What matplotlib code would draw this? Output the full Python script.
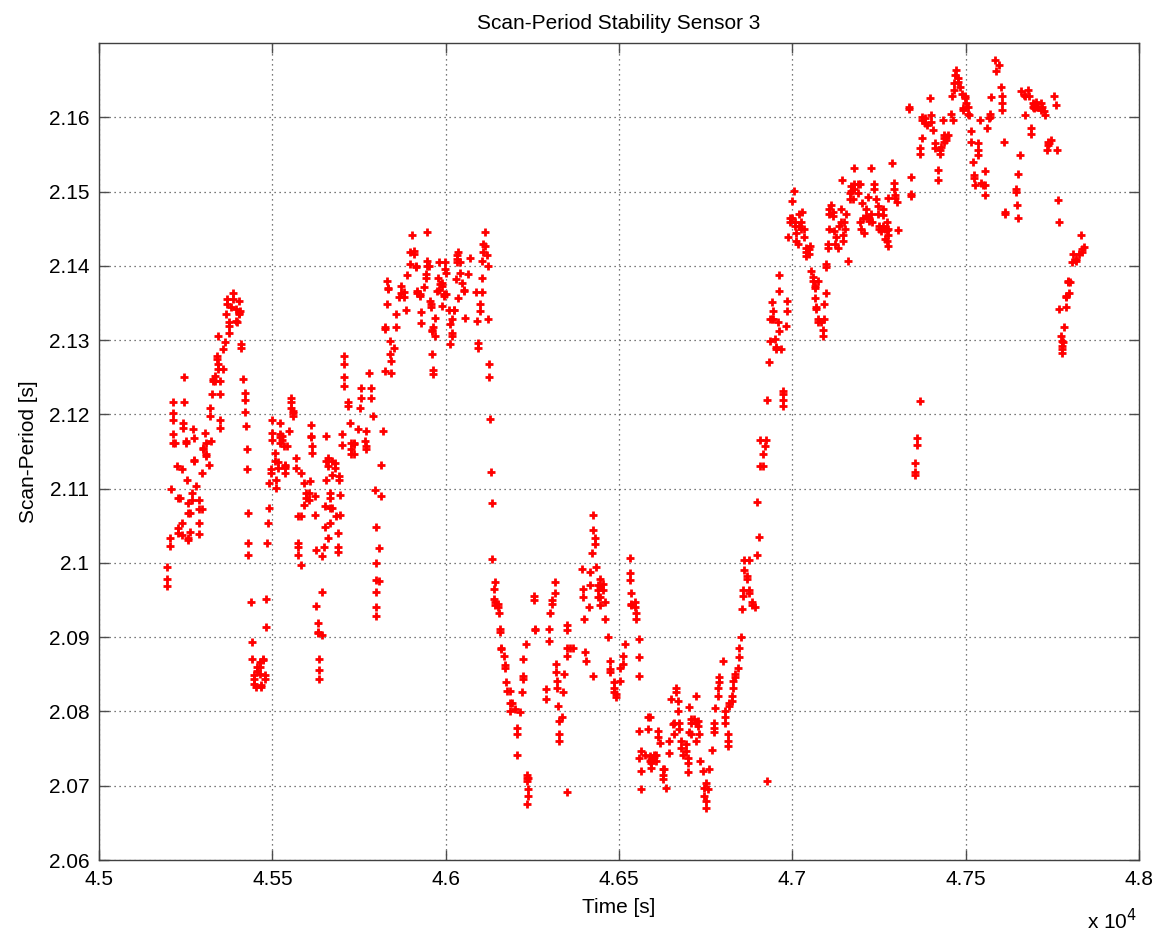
import matplotlib
matplotlib.use('Agg')
import matplotlib.pyplot as plt
from matplotlib.ticker import FuncFormatter
import numpy as np

plt.rcParams['font.family'] = ['Liberation Sans', 'DejaVu Sans']

# scan period samples, one row per time stamp: (time [s], period [s], ...)
seg_a = [
    (45195, 2.0994, 2.0978, 2.0969), (45205, 2.1023, 2.1034), (45209, 2.1100),
    (45214, 2.1202, 2.1193, 2.1217, 2.1173, 2.1162), (45219, 2.1162), (45224, 2.1130),
    (45228, 2.1087, 2.1047, 2.1040), (45233, 2.1087), (45238, 2.1126, 2.1054, 2.1038),
    (45243, 2.1189, 2.1182), (45246, 2.1250, 2.1216), (45250, 2.1164, 2.1162),
    (45255, 2.1112), (45257, 2.1081, 2.1067, 2.1033, 2.1031), (45262, 2.1067, 2.1042),
    (45267, 2.1094, 2.1085), (45270, 2.1180), (45274, 2.1168, 2.1139, 2.1137),
    (45281, 2.1103), (45289, 2.1085, 2.1072, 2.1054, 2.1039), (45296, 2.1072),
    (45297, 2.1121), (45300, 2.1155, 2.1153), (45305, 2.1175), (45310, 2.1162, 2.1146, 2.1144),
    (45317, 2.1132), (45320, 2.1209, 2.1198), (45324, 2.1164), (45326, 2.1227),
    (45329, 2.1247, 2.1245), (45334, 2.1252, 2.1245), (45339, 2.1279, 2.1274),
    (45342, 2.1305), (45344, 2.1268, 2.1261), (45350, 2.1245, 2.1227, 2.1193, 2.1182),
    (45358, 2.1261, 2.1288), (45363, 2.1297), (45366, 2.1335), (45368, 2.1355, 2.1349),
    (45376, 2.1324, 2.1319, 2.1310), (45380, 2.1344), (45387, 2.1364, 2.1355),
    (45395, 2.1342, 2.1326), (45399, 2.1324), (45404, 2.1353, 2.1337, 2.1335),
    (45408, 2.1339), (45411, 2.1295, 2.1290), (45416, 2.1248), (45421, 2.1229, 2.1220, 2.1203),
    (45425, 2.1184), (45428, 2.1154, 2.1127), (45430, 2.1067), (45431, 2.1027, 2.1010),
    (45438, 2.0948), (45440, 2.0894, 2.0871), (45446, 2.0849, 2.0844, 2.0837),
    (45452, 2.0833), (45456, 2.0860, 2.0855), (45463, 2.0867, 2.0860, 2.0851),
    (45468, 2.0835, 2.0833), (45473, 2.0871, 2.0869), (45478, 2.0849, 2.0844),
    (45481, 2.0914), (45483, 2.0952), (45485, 2.1027), (45488, 2.1054),
    (45490, 2.1074, 2.1108), (45497, 2.1126, 2.1121),
]

seg_b = [
    (45500, 2.1193, 2.1166, 2.1175), (45507, 2.1148, 2.1137), (45510, 2.1101, 2.1112),
    (45516, 2.1128, 2.1136), (45521, 2.1173, 2.1169, 2.1162, 2.1189), (45529, 2.1171, 2.1166),
    (45534, 2.1157), (45536, 2.1132, 2.1128, 2.1121, 2.1130), (45543, 2.1158), (45548, 2.1177),
    (45555, 2.1222, 2.1216, 2.1209), (45559, 2.1202, 2.1198, 2.1205), (45569, 2.1141, 2.1128),
    (45574, 2.1063, 2.1027, 2.1022, 2.1011), (45583, 2.1063, 2.0997, 2.1121),
    (45590, 2.1078, 2.1108), (45598, 2.1094, 2.1087), (45606, 2.1094, 2.1085), (45610, 2.1110),
    (45612, 2.1186, 2.1171, 2.1169), (45615, 2.1157, 2.1148), (45622, 2.1065, 2.1090),
    (45625, 2.1018), (45627, 2.0942), (45631, 2.0919, 2.0907, 2.0905),
    (45636, 2.0871, 2.0856, 2.0844), (45644, 2.0961, 2.0903, 2.1009), (45649, 2.1022),
    (45651, 2.1076, 2.1049), (45654, 2.1171, 2.1137, 2.1112), (45660, 2.1141, 2.1130, 2.1033),
    (45665, 2.1087, 2.1074, 2.1054, 2.1094), (45673, 2.1119, 2.1137, 2.1074),
    (45680, 2.1135, 2.1128), (45684, 2.1063), (45689, 2.1040, 2.1022, 2.1015),
    (45692, 2.1117, 2.1112), (45696, 2.1065, 2.1092), (45702, 2.1173, 2.1159),
    (45708, 2.1279, 2.1268, 2.1250, 2.1238), (45718, 2.1216, 2.1211), (45723, 2.1189),
    (45728, 2.1162, 2.1153, 2.1146), (45735, 2.1162, 2.1160, 2.1146), (45747, 2.1180),
    (45752, 2.1209), (45756, 2.1236, 2.1222), (45766, 2.1164), (45771, 2.1177, 2.1153, 2.1157),
    (45780, 2.1256), (45785, 2.1236, 2.1222), (45790, 2.1198), (45795, 2.1098),
    (45800, 2.1049, 2.1000, 2.0977, 2.0961, 2.0941, 2.0929), (45807, 2.0975, 2.1020),
    (45814, 2.1132, 2.1090), (45820, 2.1177), (45824, 2.1259, 2.1317, 2.1315),
    (45830, 2.1349, 2.1380), (45834, 2.1369, 2.1370), (45838, 2.1299, 2.1281),
    (45843, 2.1272, 2.1256), (45852, 2.1290), (45857, 2.1317, 2.1335), (45865, 2.1358),
    (45871, 2.1373, 2.1364), (45880, 2.1365, 2.1358), (45886, 2.1340), (45889, 2.1387),
    (45897, 2.1418, 2.1402),
]

seg_c = [
    (45902, 2.1441), (45908, 2.1420, 2.1416), (45913, 2.1400, 2.1398), (45918, 2.1366, 2.1364),
    (45927, 2.1362, 2.1359), (45930, 2.1323, 2.1338), (45937, 2.1371), (45942, 2.1389, 2.1384),
    (45946, 2.1446, 2.1407, 2.1400), (45951, 2.1400), (45956, 2.1353), (45959, 2.1348, 2.1344),
    (45961, 2.1314, 2.1312, 2.1281), (45964, 2.1260, 2.1254, 2.1317), (45970, 2.1330, 2.1305),
    (45975, 2.1366), (45978, 2.1384), (45980, 2.1405, 2.1368), (45985, 2.1375), (45988, 2.1346),
    (45989, 2.1377, 2.1373), (45994, 2.1362, 2.1359), (45999, 2.1405, 2.1396),
    (46001, 2.1391, 2.1362), (46009, 2.1341), (46013, 2.1321, 2.1295),
    (46018, 2.1328, 2.1310, 2.1305), (46023, 2.1341, 2.1341), (46030, 2.1382),
    (46033, 2.1414, 2.1409, 2.1405), (46037, 2.1418, 2.1356), (46042, 2.1405, 2.1391),
    (46047, 2.1377), (46054, 2.1368, 2.1366), (46056, 2.1330), (46064, 2.1389), (46071, 2.1411),
    (46087, 2.1365), (46090, 2.1326), (46092, 2.1296, 2.1290), (46098, 2.1339, 2.1348),
    (46104, 2.1384, 2.1365, 2.1407), (46109, 2.1429, 2.1418), (46114, 2.1445, 2.1427),
    (46119, 2.1414), (46122, 2.1400, 2.1329), (46124, 2.1268), (46126, 2.1250), (46128, 2.1194),
    (46130, 2.1123), (46133, 2.1080, 2.1005), (46138, 2.0965, 2.0952),
    (46143, 2.0947, 2.0943, 2.0974), (46150, 2.0945, 2.0941), (46154, 2.0932),
    (46157, 2.0911, 2.0907), (46160, 2.0886, 2.0884), (46167, 2.0875), (46171, 2.0862, 2.0859),
    (46173, 2.0839), (46176, 2.0828), (46186, 2.0828, 2.0812, 2.0801), (46191, 2.0812),
    (46200, 2.0803), (46205, 2.0778, 2.0770), (46207, 2.0742), (46215, 2.0799), (46219, 2.0826),
    (46224, 2.0871, 2.0848, 2.0844), (46231, 2.0891), (46234, 2.0715, 2.0710, 2.0706, 2.0675),
    (46238, 2.0695, 2.0686, 2.0710), (46256, 2.0955, 2.0950), (46258, 2.0911, 2.0909),
    (46289, 2.0830, 2.0817), (46297, 2.0911, 2.0895),
]

seg_d = [
    (46301, 2.0932), (46308, 2.0950, 2.0945), (46315, 2.0974, 2.0959), (46317, 2.0864, 2.0853),
    (46322, 2.0841, 2.0832), (46325, 2.0808), (46326, 2.0787, 2.0770, 2.0760), (46336, 2.0792),
    (46339, 2.0826), (46342, 2.0850), (46349, 2.0916, 2.0909, 2.0886, 2.0875), (46351, 2.0692),
    (46358, 2.0886), (46368, 2.0886), (46392, 2.0992), (46396, 2.0965, 2.0954), (46400, 2.0925),
    (46401, 2.0880), (46406, 2.0868), (46413, 2.0941), (46416, 2.0988, 2.0970), (46422, 2.1013),
    (46425, 2.1044, 2.1064, 2.0848), (46430, 2.1033, 2.1026), (46435, 2.0995),
    (46440, 2.0970, 2.0963, 2.0954), (46446, 2.0979, 2.0968, 2.0954, 2.0943),
    (46454, 2.0972, 2.0963), (46461, 2.0947, 2.0925), (46467, 2.0900),
    (46473, 2.0868, 2.0857, 2.0853), (46485, 2.0839, 2.0832, 2.0826), (46492, 2.0823, 2.0819),
    (46502, 2.0841, 2.0859), (46512, 2.0864, 2.0875), (46518, 2.0891),
    (46531, 2.1006, 2.0986, 2.0977), (46536, 2.0959, 2.0945, 2.0943), (46545, 2.0947, 2.0941),
    (46550, 2.0932, 2.0925), (46557, 2.0898, 2.0873), (46559, 2.0848, 2.0774, 2.0738),
    (46564, 2.0747, 2.0720, 2.0695), (46574, 2.0742), (46583, 2.0793, 2.0776),
    (46588, 2.0740, 2.0733, 2.0792), (46593, 2.0736, 2.0731, 2.0724), (46600, 2.0742, 2.0739),
    (46607, 2.0742, 2.0733), (46612, 2.0774, 2.0765), (46617, 2.0758),
    (46626, 2.0722, 2.0715, 2.0709), (46631, 2.0722), (46636, 2.0697), (46644, 2.0760, 2.0744),
    (46650, 2.0817), (46655, 2.0783), (46660, 2.0785, 2.0769), (46665, 2.0832, 2.0826),
    (46670, 2.0814, 2.0801), (46674, 2.0785, 2.0776), (46679, 2.0760, 2.0751), (46684, 2.0742),
    (46692, 2.0756, 2.0747), (46698, 2.0738, 2.0731, 2.0718),
]

seg_e = [
    (46702, 2.0772, 2.0806), (46708, 2.0790, 2.0785, 2.0769), (46717, 2.0790),
    (46722, 2.0821, 2.0785, 2.0760), (46727, 2.0787, 2.0781), (46732, 2.0770), (46734, 2.0733),
    (46741, 2.0720), (46746, 2.0697, 2.0686), (46751, 2.0704, 2.0679, 2.0670), (46756, 2.0695),
    (46761, 2.0722), (46768, 2.0748), (46775, 2.0785, 2.0778, 2.0772), (46778, 2.0805),
    (46785, 2.0821, 2.0832), (46789, 2.0846, 2.0839), (46799, 2.0868),
    (46807, 2.0801, 2.0792, 2.0785), (46813, 2.0769, 2.0760, 2.0754), (46818, 2.0812, 2.0808),
    (46826, 2.0821, 2.0814), (46828, 2.0841, 2.0832), (46835, 2.0850, 2.0846), (46842, 2.0859),
    (46845, 2.0886, 2.0873), (46852, 2.0900), (46854, 2.0938), (46858, 2.0963, 2.0956),
    (46861, 2.0990, 2.1004), (46868, 2.0983, 2.0979), (46875, 2.1004, 2.0963, 2.0959),
    (46885, 2.0947, 2.0943), (46893, 2.0941), (46898, 2.1010), (46899, 2.1082), (46903, 2.1035),
    (46906, 2.1166, 2.1130), (46916, 2.1146, 2.1130), (46920, 2.1157), (46923, 2.1166),
    (46927, 2.1220, 2.0706), (46932, 2.1271), (46935, 2.1299, 2.1329), (46940, 2.1351, 2.1328),
    (46944, 2.1339, 2.1328), (46949, 2.1302), (46952, 2.1291, 2.1288), (46959, 2.1325),
    (46962, 2.1388, 2.1366, 2.1312), (46966, 2.1288), (46973, 2.1228, 2.1220, 2.1211, 2.1231),
    (46981, 2.1319), (46985, 2.1353, 2.1339), (46988, 2.1439), (46992, 2.1464, 2.1459),
]

seg_f = [
    (47000, 2.1487, 2.1464), (47005, 2.1501), (47007, 2.1459, 2.1453), (47011, 2.1444, 2.1433),
    (47016, 2.1430), (47019, 2.1453, 2.1470), (47026, 2.1459, 2.1450), (47029, 2.1473),
    (47033, 2.1450), (47035, 2.1439), (47038, 2.1424), (47040, 2.1419, 2.1413),
    (47048, 2.1422, 2.1416), (47052, 2.1427), (47055, 2.1393), (47059, 2.1385, 2.1379),
    (47064, 2.1373, 2.1370, 2.1356), (47069, 2.1345, 2.1342), (47074, 2.1379, 2.1328, 2.1325),
    (47083, 2.1325), (47088, 2.1314, 2.1305), (47092, 2.1328, 2.1348), (47096, 2.1363),
    (47098, 2.1399, 2.1402), (47103, 2.1430, 2.1424), (47107, 2.1450, 2.1476, 2.1470),
    (47112, 2.1482), (47117, 2.1473, 2.1467), (47119, 2.1447), (47122, 2.1430), (47126, 2.1439),
    (47131, 2.1424), (47134, 2.1453), (47141, 2.1459, 2.1476), (47144, 2.1515),
    (47146, 2.1441, 2.1433), (47150, 2.1459), (47153, 2.1450), (47155, 2.1470), (47160, 2.1407),
    (47165, 2.1490, 2.1498), (47170, 2.1507, 2.1501), (47174, 2.1490),
    (47179, 2.1532, 2.1510, 2.1504), (47189, 2.1510, 2.1498), (47194, 2.1510, 2.1459),
    (47198, 2.1450), (47201, 2.1484), (47205, 2.1464), (47208, 2.1444), (47213, 2.1476, 2.1467),
    (47217, 2.1493), (47220, 2.1464, 2.1461), (47227, 2.1532, 2.1470), (47230, 2.1459),
    (47237, 2.1510, 2.1504), (47241, 2.1490), (47246, 2.1481, 2.1470), (47251, 2.1453, 2.1450),
    (47255, 2.1447), (47262, 2.1477, 2.1468, 2.1454), (47267, 2.1450, 2.1436),
    (47272, 2.1459, 2.1448, 2.1434), (47275, 2.1491), (47277, 2.1450, 2.1441, 2.1427),
    (47287, 2.1538), (47292, 2.1511, 2.1504), (47296, 2.1495, 2.1491), (47301, 2.1486),
    (47306, 2.1448),
]

seg_g = [
    (47336, 2.1614, 2.1611), (47342, 2.1520, 2.1497, 2.1494), (47353, 2.1135, 2.1123, 2.1119),
    (47361, 2.1168, 2.1159), (47368, 2.1218, 2.1558, 2.1551), (47373, 2.1572),
    (47375, 2.1601, 2.1596), (47383, 2.1599, 2.1592), (47388, 2.1590), (47397, 2.1626),
    (47401, 2.1603, 2.1594), (47406, 2.1583), (47411, 2.1565, 2.1558), (47420, 2.1529, 2.1515),
    (47425, 2.1556, 2.1551), (47430, 2.1560), (47435, 2.1596), (47438, 2.1576, 2.1572, 2.1567),
    (47444, 2.1574, 2.1569), (47449, 2.1576), (47459, 2.1605), (47462, 2.1628), (47464, 2.1596),
    (47466, 2.1646, 2.1637), (47470, 2.1657), (47473, 2.1664), (47478, 2.1653, 2.1648),
    (47483, 2.1641), (47488, 2.1632), (47492, 2.1612, 2.1610), (47497, 2.1628, 2.1626),
    (47502, 2.1619), (47507, 2.1614, 2.1605), (47511, 2.1603), (47516, 2.1581, 2.1567),
    (47521, 2.1540), (47524, 2.1522, 2.1518), (47528, 2.1509), (47535, 2.1565, 2.1556, 2.1549),
    (47540, 2.1596), (47545, 2.1511), (47550, 2.1509), (47555, 2.1509), (47557, 2.1527, 2.1496),
    (47562, 2.1585), (47566, 2.1599), (47569, 2.1605, 2.1601), (47574, 2.1627), (47586, 2.1677),
    (47588, 2.1662), (47595, 2.1671), (47601, 2.1641), (47604, 2.1628, 2.1619, 2.1610),
    (47612, 2.1567), (47614, 2.1473, 2.1470), (47646, 2.1504, 2.1500), (47648, 2.1482),
    (47650, 2.1464), (47652, 2.1524), (47658, 2.1549), (47660, 2.1635), (47668, 2.1630),
    (47671, 2.1628, 2.1603), (47679, 2.1637), (47684, 2.1628), (47689, 2.1585, 2.1578),
    (47694, 2.1619, 2.1614), (47698, 2.1617, 2.1612), (47703, 2.1621, 2.1614), (47708, 2.1614),
    (47716, 2.1619, 2.1610), (47720, 2.1614), (47725, 2.1608), (47729, 2.1603), (47735, 2.1556),
    (47737, 2.1567, 2.1563), (47741, 2.1565), (47746, 2.1569), (47754, 2.1628), (47761, 2.1617),
    (47763, 2.1556), (47765, 2.1488), (47770, 2.1459, 2.1342), (47775, 2.1306),
    (47777, 2.1299, 2.1292, 2.1288, 2.1283), (47782, 2.1297), (47785, 2.1317),
    (47789, 2.1344, 2.1360, 2.1358), (47794, 2.1380, 2.1378), (47798, 2.1364), (47802, 2.1378),
    (47806, 2.1405), (47811, 2.1416), (47818, 2.1409, 2.1407), (47828, 2.1416), (47832, 2.1441),
    (47837, 2.1423, 2.1418), (47840, 2.1425),
]

x_ticks = [4.5, 4.55, 4.6, 4.65, 4.7, 4.75, 4.8]
y_ticks = [2.06, 2.07, 2.08, 2.09, 2.10, 2.11, 2.12, 2.13, 2.14, 2.15, 2.16]

# flatten rows into time / period vectors
time = []
period = []
for seg in [seg_a, seg_b, seg_c, seg_d, seg_e, seg_f, seg_g]:
    for row in seg:
        for p in row[1:]:
            time.append(row[0])
            period.append(p)
time = np.array(time, dtype=float)
period = np.array(period)

fig = plt.figure(figsize=(11.64, 9.36), dpi=100)
ax = fig.add_axes([99 / 1164, 76 / 936, 1040 / 1164, 817 / 936])

ax.plot(time / 1e4, period, '+', color='r', ms=5.5, mew=2.0, ls='none')

ax.set_xlim(4.5, 4.8)
ax.set_ylim(2.06, 2.17)
ax.set_xticks(x_ticks)
ax.set_yticks(y_ticks)
fmt = FuncFormatter(lambda v, pos: '%g' % round(v, 4))
ax.xaxis.set_major_formatter(fmt)
ax.yaxis.set_major_formatter(fmt)

ax.grid(True, linestyle=(0, (1, 3)), color='0.3', linewidth=0.9)
ax.tick_params(direction='in', top=True, right=True, length=7, width=1,
               color='0.3', labelsize=15, pad=7)
for s in ax.spines.values():
    s.set_color('0.25')
    s.set_linewidth(1.0)

ax.set_title('Scan-Period Stability Sensor 3', fontsize=15, pad=10)
ax.set_xlabel('Time [s]', fontsize=15, labelpad=7)
ax.set_ylabel('Scan-Period [s]', fontsize=15, labelpad=8)
fig.text(1112 / 1164, 1 - 921 / 936, r'x 10$^{4}$', fontsize=15, ha='center', va='center')

fig.savefig('out.png', dpi=100)
